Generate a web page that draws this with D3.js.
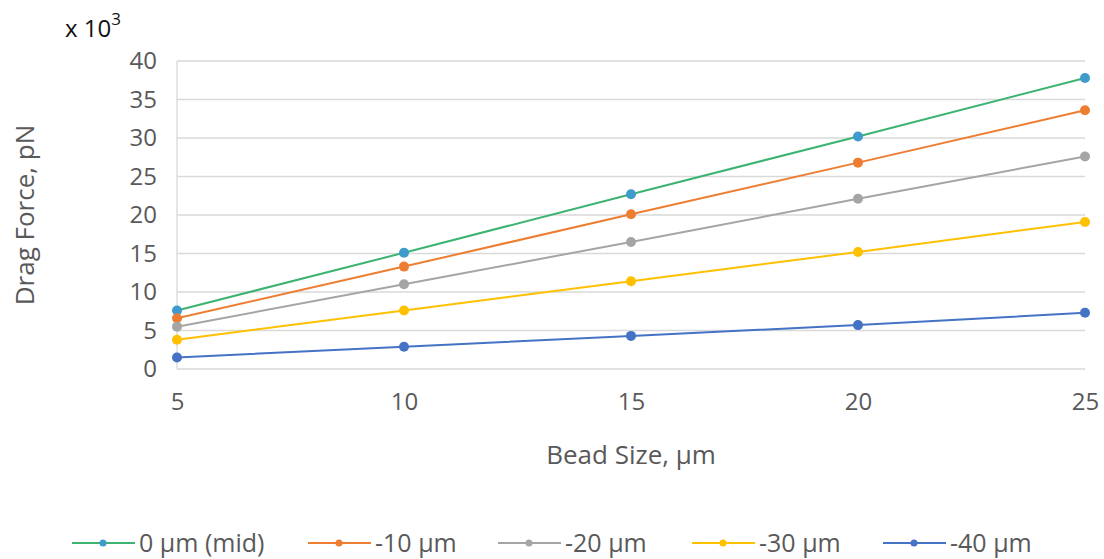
<!DOCTYPE html>
<html>
<head>
<meta charset="utf-8">
<script src="https://cdn.jsdelivr.net/npm/d3@7"></script>
<style>
  body { margin: 0; background: #fff; }
  svg { display: block; font-family: "Open Sans", Lato, sans-serif; }
</style>
</head>
<body>
<svg width="1104" height="559"></svg>
<script>
// bead sizes (um)
const beadSizes = [5, 10, 15, 20, 25]
const seriesNames = ["0 \u00b5m (mid)", "-10 \u00b5m", "-20 \u00b5m", "-30 \u00b5m", "-40 \u00b5m"]
// drag force values, x 10^3 pN
const mid = [7.6, 15.1, 22.7, 30.2, 37.8]
const minus10 = [6.6, 13.3, 20.1, 26.8, 33.6]
const minus20 = [5.5, 11.0, 16.5, 22.1, 27.6]
const minus30 = [3.8, 7.6, 11.4, 15.2, 19.1]
const minus40 = [1.5, 2.9, 4.3, 5.7, 7.3]
const yTicks = [0, 5, 10, 15, 20, 25, 30, 35, 40]

const lineColors = ["#3cb371", "#ed7d31", "#a5a5a5", "#ffc000", "#4472c4"]
const dotColors = ["#3e9bcb", "#ed7d31", "#a5a5a5", "#ffc000", "#4472c4"]
const allSeries = [mid, minus10, minus20, minus30, minus40]

const svg = d3.select("svg")

const x = d3.scaleLinear().domain([5, 25]).range([177, 1085])
const y = d3.scaleLinear().domain([0, 40]).range([369, 61])

// gridlines
svg.append("g")
  .selectAll("line")
  .data(yTicks)
  .enter()
  .append("line")
  .attr("x1", x(5)).attr("x2", x(25))
  .attr("y1", d => y(d)).attr("y2", d => y(d))
  .attr("stroke", "#d9d9d9")
  .attr("stroke-width", 1.3)

// left axis line
svg.append("line")
  .attr("x1", x(5)).attr("x2", x(5))
  .attr("y1", y(0)).attr("y2", y(40))
  .attr("stroke", "#d9d9d9")
  .attr("stroke-width", 1.3)

// y tick labels
const yAxis = svg.append("g")
  .attr("transform", "translate(" + (x(5) - 20) + ",0)")
  .call(d3.axisLeft(y).tickValues(yTicks).tickSize(0).tickPadding(0))
yAxis.select(".domain").remove()
yAxis.selectAll("text")
  .attr("font-size", 24)
  .attr("fill", "#595959")
  .attr("font-family", "'Open Sans', sans-serif")

// x tick labels
const xAxis = svg.append("g")
  .attr("transform", "translate(0," + (y(0) + 24) + ")")
  .call(d3.axisBottom(x).tickValues(beadSizes).tickSize(0).tickPadding(0))
xAxis.select(".domain").remove()
xAxis.selectAll("text")
  .attr("font-size", 24)
  .attr("fill", "#595959")
  .attr("font-family", "'Open Sans', sans-serif")

// lines + markers
const lineGen = d3.line()
  .x((d, i) => x(beadSizes[i]))
  .y(d => y(d))

allSeries.forEach(function (vals, s) {
  svg.append("path")
    .datum(vals)
    .attr("d", lineGen)
    .attr("fill", "none")
    .attr("stroke", lineColors[s])
    .attr("stroke-width", 2)
  svg.append("g")
    .selectAll("circle")
    .data(vals)
    .enter()
    .append("circle")
    .attr("cx", (d, i) => x(beadSizes[i]))
    .attr("cy", d => y(d))
    .attr("r", 5)
    .attr("fill", dotColors[s])
})

// axis titles
svg.append("text")
  .attr("x", 631).attr("y", 464)
  .attr("text-anchor", "middle")
  .attr("font-size", 26)
  .attr("fill", "#595959")
  .text("Bead Size, \u00b5m")

svg.append("text")
  .attr("transform", "translate(34,215) rotate(-90)")
  .attr("text-anchor", "middle")
  .attr("font-size", 26)
  .attr("fill", "#595959")
  .text("Drag Force, pN")

// multiplier
const mult = svg.append("text")
  .attr("x", 65).attr("y", 37)
  .attr("font-size", 24)
  .attr("fill", "#111")
mult.append("tspan").text("x 10")
mult.append("tspan").attr("dy", -12).attr("font-size", 17).text("3")

// legend
const legendX = [72, 308, 498, 692, 883]
const legend = svg.append("g")
allSeries.forEach(function (vals, s) {
  const g = legend.append("g").attr("transform", "translate(" + legendX[s] + ",543)")
  g.append("line").attr("x1", 0).attr("x2", 63).attr("y1", 0).attr("y2", 0)
    .attr("stroke", lineColors[s]).attr("stroke-width", 2)
  g.append("circle").attr("cx", 31).attr("cy", 0).attr("r", 3.5).attr("fill", dotColors[s])
  g.append("text").attr("x", 67).attr("y", 9)
    .attr("font-size", 25).attr("fill", "#595959")
    .text(seriesNames[s])
})
</script>
</body>
</html>
